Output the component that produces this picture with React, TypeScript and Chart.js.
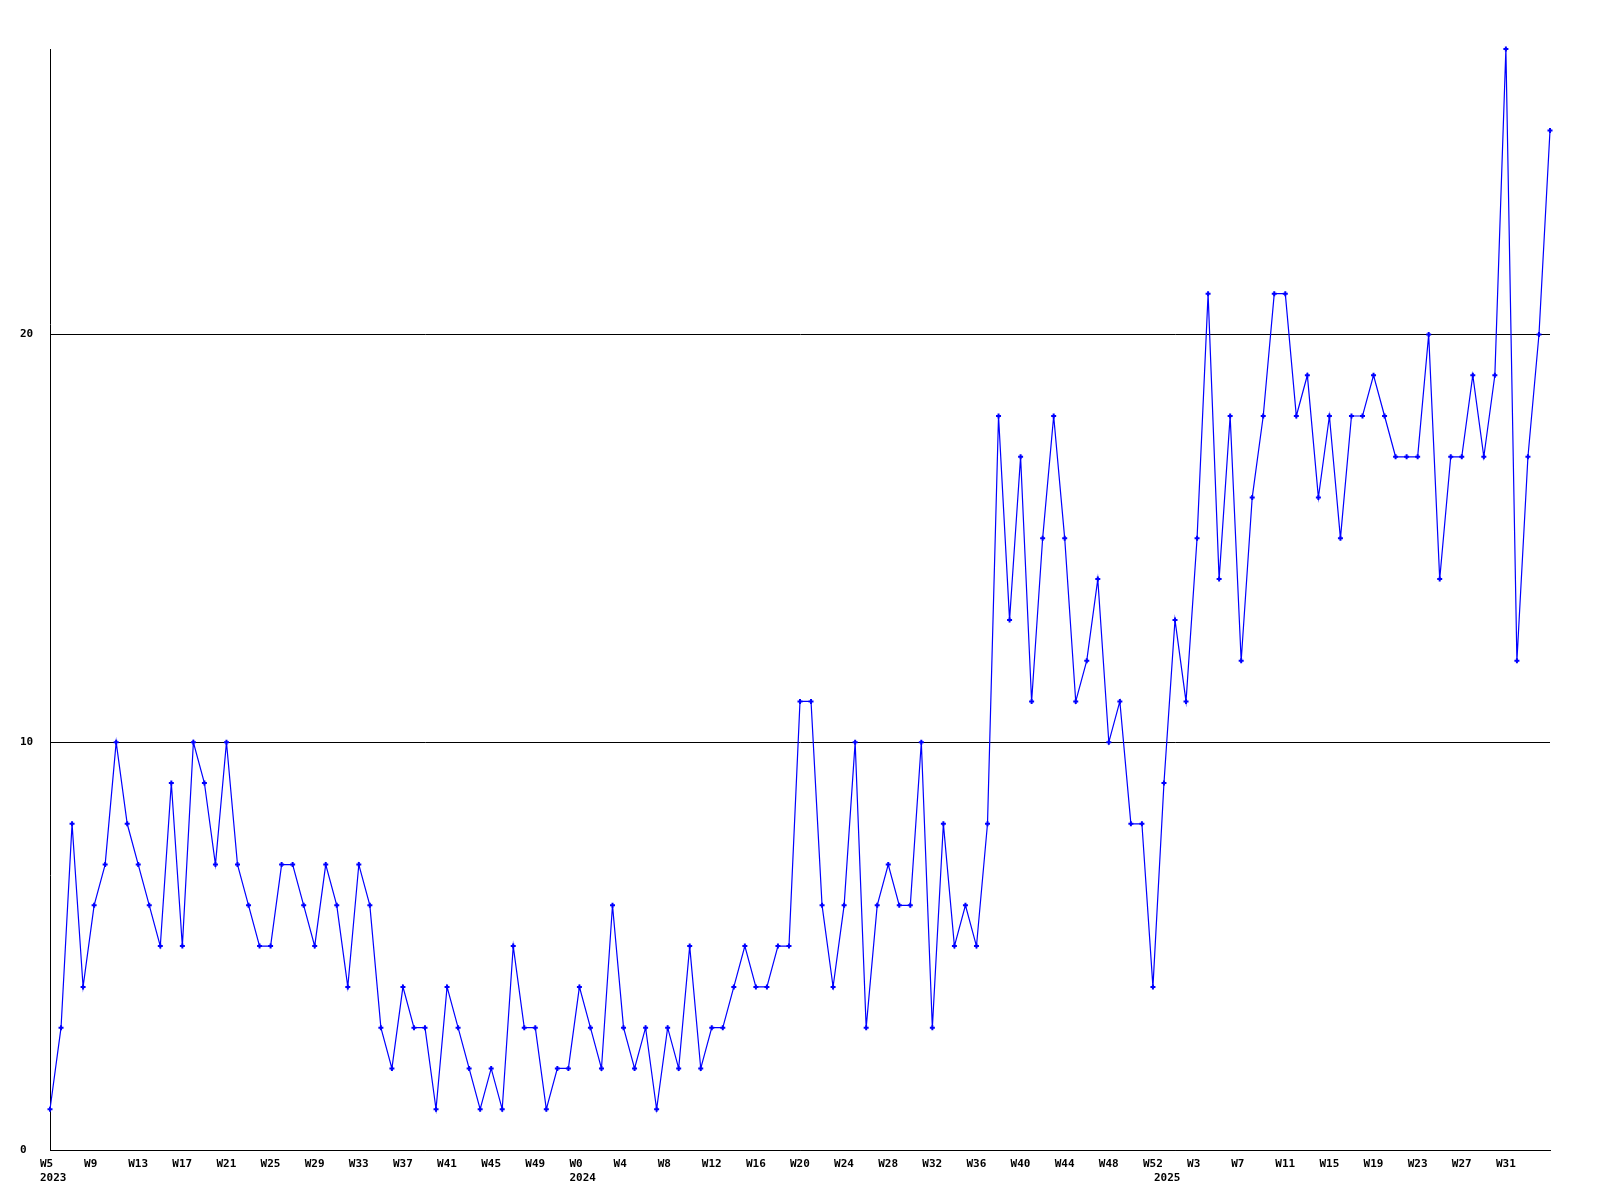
import React, { useEffect, useRef } from "react";
import { Chart, registerables } from "chart.js";

Chart.register(...registerables);

// Category segments: week numbers per year
const years = [2023, 2024, 2025];
const firstWeeks = [5, 0, 0];
const lastWeeks = [52, 52, 35];

// Weekly values (137 weeks)
const values = [
  1, 3, 8, 4, 6, 7, 10, 8, 7, 6, 5, 9, 5, 10, 9, 7, 10, 7, 6, 5, 5, 7, 7,
  6, 5, 7, 6, 4, 7, 6, 3, 2, 4, 3, 3, 1, 4, 3, 2, 1, 2, 1, 5, 3, 3, 1, 2, 2, 4,
  3, 2, 6, 3, 2, 3, 1, 3, 2, 5, 2, 3, 3, 4, 5, 4, 4, 5, 5, 11, 11, 6, 4, 6, 10,
  3, 6, 7, 6, 6, 10, 3, 8, 5, 6, 5, 8, 18, 13, 17, 11, 15, 18, 15, 11, 12, 14, 10, 11, 8,
  8, 4, 9, 13, 11, 15, 21, 14, 18, 12, 16, 18, 21, 21, 18, 19, 16, 18, 15, 18, 18, 19, 18, 17, 17, 17,
  20, 14, 17, 17, 19, 17, 19, 27, 12, 17, 20, 25,
];

const yTickValues = [0, 10, 20];
const yMax = 27;
const labelEvery = 4;

function buildCategories() {
  const weekLabels: string[] = [];
  const yearStart: Record<number, string> = {};
  years.forEach((y, i) => {
    yearStart[weekLabels.length] = String(y);
    for (let w = firstWeeks[i]; w <= lastWeeks[i]; w++) weekLabels.push(`W${w}`);
  });
  return { weekLabels, yearStart };
}

const FONT = "'DejaVu Sans Mono', 'Liberation Mono', monospace";

export default function App() {
  const ref = useRef<HTMLCanvasElement | null>(null);

  useEffect(() => {
    if (!ref.current) return;
    const { weekLabels, yearStart } = buildCategories();
    const n = weekLabels.length;
    const chart = new Chart(ref.current, {
      type: "line",
      data: {
        labels: weekLabels,
        datasets: [
          {
            data: values,
            borderColor: "#0000ff",
            backgroundColor: "#0000ff",
            borderWidth: 1.2,
            pointStyle: "cross",
            pointRadius: 2.5,
            pointBorderWidth: 2,
            pointBorderColor: "#0000ff",
            tension: 0,
            fill: false,
            clip: false as any,
          },
        ],
      },
      options: {
        animation: false,
        responsive: false,
        devicePixelRatio: 1,
        layout: { padding: { left: 20, right: 50, top: 49, bottom: 0 } },
        plugins: {
          legend: { display: false },
          tooltip: { enabled: false },
        },
        scales: {
          x: {
            type: "category",
            offset: false,
            grid: { display: false },
            border: { display: true, color: "#000000", width: 1 },
            afterFit: (s: any) => {
              s.height = 50;
            },
            ticks: {
              autoSkip: false,
              maxRotation: 0,
              minRotation: 0,
              align: "start",
              labelOffset: -10,
              padding: -1,
              color: "#000000",
              font: { family: FONT, weight: "bold", size: 11, lineHeight: "14px" } as any,
              callback: (_v: any, index: number) => {
                const wk = index % labelEvery === 0 && index < n - 2 ? weekLabels[index] : "";
                const yr = yearStart[index];
                return yr ? [wk, yr] : wk;
              },
            },
          },
          y: {
            type: "linear",
            min: 0,
            max: yMax,
            afterFit: (s: any) => {
              s.width = 30;
            },
            afterBuildTicks: (s: any) => {
              s.ticks = yTickValues.map((v) => ({ value: v }));
            },
            grid: { color: "#000000", lineWidth: 1, drawTicks: false },
            border: { display: true, color: "#000000", width: 1 },
            ticks: {
              crossAlign: "far",
              padding: 0,
              color: "#000000",
              font: { family: FONT, weight: "bold", size: 11 } as any,
            },
          },
        },
      },
    });
    return () => chart.destroy();
  }, []);

  return (
    <div style={{ position: "fixed", left: 0, top: 0, width: 1600, height: 1200, background: "#ffffff" }}>
      <canvas ref={ref} width={1600} height={1200} style={{ display: "block" }} />
    </div>
  );
}
